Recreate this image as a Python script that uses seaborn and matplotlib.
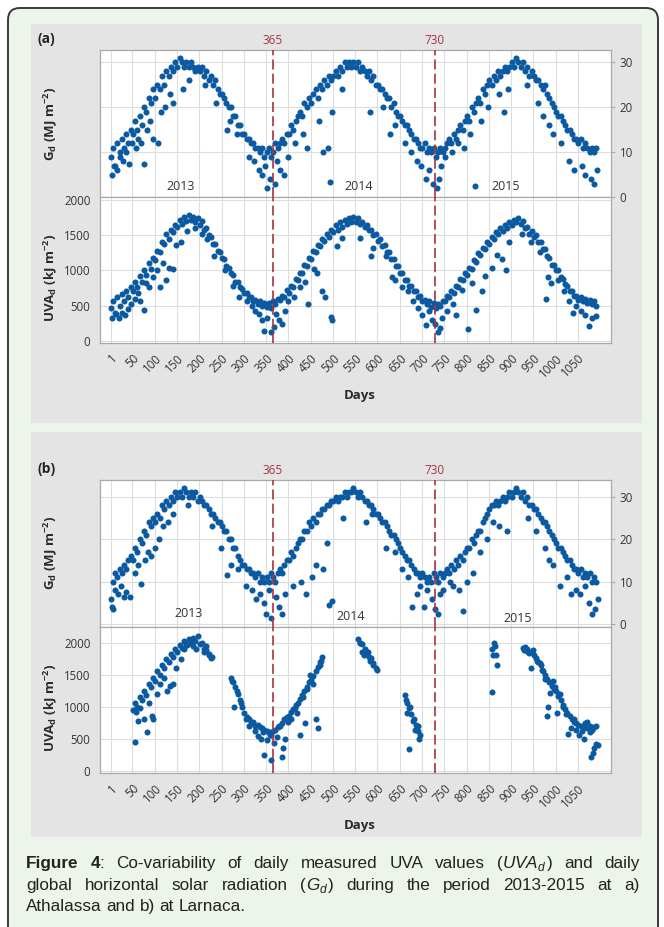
import numpy as np
import pandas as pd
import matplotlib
matplotlib.use("Agg")
import matplotlib.pyplot as plt
import seaborn as sns
from matplotlib.patches import FancyBboxPatch, Rectangle

N = np.nan

# day grid of the read-off main band (every 5th day, 1..1091)
days5 = np.arange(1, 1096, 5)

# ---------- (a) Athalassa : G_d (MJ m-2) ----------
g_a = [9, 11, 7, 12, 10, 13, 11, 14, 12, 15,
       14, 17, 15, 18, 16, 20, 19, 22, 21, 24,
       22, 25, 24, 27, 25, 28, 27, 29, 28, 30,
       29, 31, 30, 29, 30, 29, 30, 29, 28, 29,
       28, 29, 27, 28, 26, 27, 25, 26, 24, 23,
       23, 22, 21, 20, 20, 18, 18, 16, 16, 14,
       14, 13, 13, 12, 12, 11, 11, 10, 11, 9,
       10, 11, 9, 10, 12, 11, 12, 13, 12, 14,
       14, 16, 15, 17, 18, 19, 18, 21, 20, 22,
       21, 23, 24, 22, 25, 24, 26, 25, 27, 26,
       27, 28, 27, 29, 28, 30, 29, 30, 29, 30,
       29, 30, 28, 29, 28, 27, 28, 26, 27, 25,
       25, 24, 24, 23, 22, 22, 20, 21, 19, 18,
       18, 17, 16, 16, 15, 14, 13, 13, 12, 11,
       11, 12, 10, 11, 10, 11, 9, 10, 11, 10,
       11, 12, 13, 12, 14, 13, 15, 16, 15, 17,
       18, 17, 20, 19, 21, 22, 21, 24, 23, 25,
       26, 25, 27, 26, 28, 27, 28, 29, 28, 29,
       30, 29, 31, 30, 29, 30, 28, 29, 27, 28,
       27, 26, 26, 25, 24, 25, 23, 22, 21, 20,
       19, 18, 18, 17, 16, 15, 15, 14, 13, 13,
       12, 13, 11, 12, 11, 10, 11, 10, 11]
g_a_low_days = [3, 8, 15, 22, 28, 35, 42, 48, 57, 63, 70, 76, 83, 90, 97, 108, 115, 122, 135, 142,
                163, 178, 213, 238, 262, 270, 285, 312, 322, 333, 340, 347, 352, 358, 370, 375, 382,
                390, 398, 415, 432, 442, 494, 468, 478, 488, 497, 520, 583, 612, 628, 640, 662, 676,
                688, 698, 708, 716, 724, 733, 738, 742, 752, 768, 780, 795, 808, 818, 832, 847, 872,
                884, 893, 935, 960, 972, 985, 993, 1012, 1030, 1040, 1058, 1066, 1080, 1086, 1092]
g_a_low = [5, 7, 6, 9, 8, 10, 7.5, 12, 11, 13, 12, 7.5, 15, 17, 13, 12, 19, 20, 23, 21,
           24, 26, 25, 21, 15, 17, 14, 9, 8, 6, 5, 7, 2, 4, 3, 8, 6,
           5, 9, 12, 14, 11, 3.5, 17, 10, 11, 19, 24, 19, 20, 14, 16, 12, 10,
           8, 7, 4, 6, 3, 2, 4, 7, 9, 10, 12, 11, 14, 2.5, 17, 20, 23,
           19, 24, 25, 21, 18, 16, 14, 12, 8, 6, 7, 5, 4, 3, 6]

# ---------- (a) Athalassa : UVA_d (kJ m-2) ----------
uva_a = [460, 560, 400, 620, 500, 660, 560, 700, 620, 760,
         700, 840, 760, 920, 840, 1000, 930, 1100, 1020, 1180,
         1150, 1280, 1260, 1400, 1380, 1520, 1450, 1580, 1540, 1640,
         1620, 1720, 1660, 1760, 1700, 1780, 1710, 1760, 1680, 1740,
         1640, 1700, 1580, 1600, 1500, 1480, 1380, 1380, 1280, 1260,
         1180, 1160, 1060, 1040, 960, 940, 840, 840, 760, 740,
         680, 680, 620, 620, 560, 580, 520, 560, 500, 540,
         480, 540, 460, 560, 520, 600, 580, 640, 620, 720,
         680, 780, 760, 880, 860, 960, 960, 1080, 1060, 1180,
         1160, 1270, 1260, 1360, 1340, 1440, 1420, 1520, 1480, 1580,
         1540, 1640, 1580, 1680, 1620, 1720, 1660, 1750, 1680, 1760,
         1680, 1740, 1660, 1690, 1620, 1640, 1580, 1580, 1500, 1520,
         1420, 1440, 1340, 1360, 1260, 1260, 1160, 1160, 1060, 1060,
         960, 960, 860, 860, 780, 780, 700, 700, 620, 640,
         560, 580, 520, 560, 480, 540, 460, 520, 500, 560,
         560, 640, 620, 700, 680, 780, 760, 880, 860, 960,
         940, 1040, 1020, 1140, 1120, 1240, 1220, 1320, 1300, 1400,
         1380, 1480, 1440, 1540, 1520, 1600, 1560, 1640, 1600, 1680,
         1640, 1720, 1680, 1740, 1660, 1700, 1600, 1620, 1520, 1560,
         1480, 1500, 1400, 1400, 1300, 1300, 1200, 1180, 1080, 1080,
         1000, 1000, 900, 880, 800, 780, 700, 700, 640, 640,
         580, 620, 560, 600, 540, 580, 520, 560, 500]
uva_a_low_days = [5, 12, 20, 27, 33, 40, 47, 55, 62, 68, 75, 80, 88, 95, 105, 112, 118, 125, 132, 140,
                  148, 158, 172, 190, 205, 218, 232, 258, 275, 290, 308, 318, 326, 333, 340, 345, 352,
                  360, 368, 373, 380, 386, 392, 400, 412, 425, 437, 445, 458, 465, 475, 482, 495, 498,
                  508, 520, 560, 585, 590, 618, 633, 640, 655, 668, 680, 690, 700, 708, 716, 722, 728,
                  735, 740, 745, 755, 770, 776, 790, 803, 812, 822, 835, 842, 858, 868, 880, 888, 896,
                  925, 945, 965, 978, 982, 990, 1005, 1018, 1030, 1038, 1045, 1056, 1065, 1074, 1082, 1090]
uva_a_low = [320, 380, 330, 400, 360, 450, 520, 600, 680, 560, 440, 820, 760, 900, 1000, 760, 1100, 860, 1040, 1020,
             1360, 1400, 1560, 1600, 1520, 1440, 1200, 1000, 780, 620, 560, 500, 420, 380, 300, 140, 330,
             120, 200, 380, 300, 240, 420, 560, 620, 760, 840, 520, 1020, 960, 700, 620, 340, 300,
             1340, 1460, 1460, 1200, 1320, 1200, 900, 860, 760, 700, 560, 460, 360, 220, 420, 300, 240,
             130, 180, 320, 420, 520, 360, 720, 170, 820, 440, 700, 920, 1040, 1220, 1160, 1000, 1400,
             1520, 1400, 1260, 600, 900, 820, 860, 700, 560, 400, 500, 420, 360, 210, 330, 350]

# ---------- (b) Larnaca : G_d (MJ m-2) ----------
g_b = [6, 10, 12, 11, 13, 12, 14, 13, 15, 16,
       15, 18, 17, 20, 19, 22, 21, 24, 23, 25,
       24, 26, 25, 28, 27, 29, 28, 30, 29, 31,
       30, 31, 30, 32, 31, 30, 31, 30, 31, 29,
       30, 29, 28, 28, 27, 26, 26, 25, 24, 24,
       23, 22, 22, 20, 20, 18, 18, 16, 15, 14,
       14, 13, 13, 12, 12, 11, 12, 10, 11, 10,
       11, 10, 12, 11, 10, 12, 13, 12, 14, 15,
       15, 17, 16, 18, 19, 20, 20, 22, 22, 24,
       23, 25, 24, 26, 26, 27, 27, 28, 28, 29,
       29, 30, 29, 30, 30, 31, 30, 31, 31, 32,
       31, 30, 31, 30, 29, 29, 28, 28, 27, 26,
       26, 25, 24, 24, 23, 22, 21, 21, 20, 19,
       18, 17, 16, 15, 15, 14, 13, 12, 12, 11,
       12, 11, 10, 11, 10, 12, 11, 10, 12, 11,
       12, 13, 12, 14, 13, 15, 14, 16, 15, 17,
       18, 18, 20, 19, 21, 22, 22, 24, 25, 26,
       27, 28, 28, 29, 28, 29, 30, 29, 30, 31,
       30, 31, 32, 31, 30, 31, 29, 30, 28, 28,
       27, 27, 26, 25, 24, 24, 23, 22, 21, 20,
       19, 18, 18, 17, 16, 15, 15, 14, 13, 13,
       12, 13, 11, 12, 11, 12, 10, 11, 10]
g_b_low_days = [3, 6, 10, 18, 25, 30, 36, 44, 55, 62, 70, 78, 85, 92, 100, 110, 118, 130, 140, 175,
                228, 248, 262, 272, 288, 305, 318, 328, 336, 345, 350, 356, 362, 372, 380, 386, 393,
                410, 428, 440, 452, 462, 478, 486, 492, 498, 522, 575, 588, 620, 640, 655, 668, 678,
                688, 696, 705, 712, 722, 730, 735, 740, 748, 762, 770, 782, 792, 800, 815, 830, 845,
                860, 872, 890, 938, 955, 975, 985, 995, 1010, 1025, 1035, 1045, 1055, 1066, 1075,
                1082, 1088, 1094]
g_b_low = [4, 3.5, 8, 7, 9, 6.5, 7.5, 6.5, 12, 14, 9.5, 15, 17, 16, 18, 20, 23, 24, 26, 28,
           23, 18, 11.5, 14, 13, 9, 8, 6, 7, 5, 2.5, 8, 1.5, 6.5, 4, 2.5, 7,
           9, 10, 7, 11, 14, 13, 19, 4.5, 5.5, 25, 24, 26, 18, 17, 13, 11, 4,
           7, 9, 4, 8, 6, 3.5, 2.5, 7, 8, 10, 9, 8, 3, 10, 12, 17, 20,
           24, 23, 22, 25, 22, 18, 15, 14, 9, 11, 7, 8, 7, 9, 5,
           2.5, 3.5, 6]

# ---------- (b) Larnaca : UVA_d (kJ m-2), gaps = missing data ----------
uva_b = [N, N, N, N, N, N, N, N, N, N,
         950, 1050, 1000, 1150, 1100, 1250, 1180, 1350, 1300, 1450,
         1400, 1550, 1500, 1650, 1600, 1750, 1700, 1820, 1780, 1900,
         1860, 1960, 1920, 2020, 1980, 2060, 2000, 2080, 2020, 2100,
         1980, 2000, 1900, 1880, 1800, 1760, N, N, N, N,
         N, N, N, N, 1450, 1380, 1300, 1200, 1100, 1000,
         900, 840, 800, 760, 740, 700, 720, 680, 660, 640,
         620, 600, 560, 620, 640, 680, 700, 740, 800, 840,
         860, 920, 960, 1020, 1060, 1120, 1180, 1240, 1300, 1380,
         1420, 1480, 1560, 1620, 1700, 1780, N, N, N, N,
         N, N, N, N, N, N, N, N, N, N,
         N, 2050, 2000, 1980, 1900, 1860, 1780, 1760, 1680, 1600,
         N, N, N, N, N, N, N, N, N, N,
         N, N, 1180, 1050, 980, 880, 800, 720, 620, 560,
         N, N, N, N, N, N, N, N, N, N,
         N, N, N, N, N, N, N, N, N, N,
         N, N, N, N, N, N, N, N, N, N,
         N, 1900, 2000, 1800, N, N, N, N, N, N,
         N, N, N, N, N, 1920, 1880, 1900, 1840, 1860,
         1800, 1760, 1700, 1650, 1560, 1500, 1440, 1380, 1320, 1280,
         1240, 1160, 1100, 1020, 960, 900, 860, 800, 760, 740,
         720, 700, 680, 740, 660, 700, 640, 680, 420]
uva_b_low_days = [55, 58, 62, 68, 75, 82, 88, 93, 97, 105, 112, 120, 128, 135, 142, 148, 158, 165, 172, 185,
                  192, 210, 215, 222, 228, 273, 278, 284, 293, 305, 312, 320, 326, 332, 338, 342, 346, 352,
                  358, 362, 368, 374, 380, 385, 388, 392, 398, 405, 415, 420, 425, 432, 438, 442, 448, 455,
                  462, 466, 470, 474, 560, 565, 570, 578, 584, 590, 598, 663, 667, 670, 674, 680, 685, 690,
                  694, 858, 860, 864, 868, 928, 932, 938, 944, 950, 958, 965, 970, 975, 980, 983, 988, 993,
                  998, 1004, 1010, 1016, 1022, 1028, 1035, 1040, 1046, 1052, 1058, 1064, 1070, 1076, 1080,
                  1083, 1086, 1090, 1094]
uva_b_low = [450, 920, 780, 980, 800, 600, 1050, 850, 800, 1200, 1350, 1450, 1250, 1320, 1350, 1600, 1750, 1900, 1960, 1950,
             1900, 1850, 1950, 1820, 1780, 1400, 1000, 1250, 1050, 800, 700, 760, 620, 540, 500, 600, 240, 480,
             560, 160, 440, 520, 700, 220, 350, 500, 760, 800, 980, 900, 560, 1150, 750, 1280, 1500, 1350,
             800, 660, 1650, 1720, 2000, 1850, 1800, 1850, 1720, 1650, 1580, 1100, 900, 340, 1000, 780, 640, 700,
             500, 1230, 1800, 1950, 1650, 1880, 1940, 1850, 1600, 1880, 1720, 1680, 1580, 1440, 860, 1000, 1220, 1400,
             1300, 900, 1200, 1000, 880, 580, 660, 800, 640, 560, 620, 500, 760, 600, 220,
             280, 360, 700, 400]

x_ticks = [1] + list(range(50, 1051, 50))
year_labels = ["2013", "2014", "2015"]

W, H = 664, 927
BLUE = "#0b59a1"
RED = "#a3343f"
GRID = "#dddddd"
SPINE = "#a9a9a9"
TXT = "#333333"

sns.set_style("white")
plt.rcParams["font.family"] = ["Open Sans", "DejaVu Sans"]

fig = plt.figure(figsize=(W / 100, H / 100), dpi=100, facecolor="white")

# background: rounded light-green frame and two grey panels
bg = fig.add_axes([0, 0, 1, 1])
bg.set_xlim(0, W)
bg.set_ylim(H, 0)
bg.axis("off")
bg.set_zorder(-5)
bg.add_patch(FancyBboxPatch((8, 8), 650, 960, boxstyle="round,pad=0,rounding_size=12",
                            fc="#edf4ea", ec="#3a3a3a", lw=1.4))
bg.add_patch(Rectangle((31, 24), 611, 399, fc="#e4e4e4", ec="none"))
bg.add_patch(Rectangle((31, 432), 611, 405, fc="#e4e4e4", ec="none"))


def px_axes(l, t, r, b):
    return fig.add_axes([l / W, 1 - b / H, (r - l) / W, (b - t) / H])


def scatter(ax, days, vals, low_days, low_vals):
    df = pd.DataFrame({"day": np.r_[days, low_days], "value": np.r_[vals, low_vals]}).dropna()
    sns.scatterplot(data=df, x="day", y="value", ax=ax, color=BLUE, s=19,
                    linewidth=0, legend=False, zorder=3)


def style(ax):
    ax.set_facecolor("white")
    ax.set_xlim(-24, 1123)
    ax.set_xticks(x_ticks)
    ax.grid(True, color=GRID, lw=0.8)
    ax.set_axisbelow(True)
    for s in ax.spines.values():
        s.set_color(SPINE)
        s.set_linewidth(0.9)
    ax.set_xlabel("")
    ax.set_ylabel("")
    ax.tick_params(colors=SPINE, labelcolor=TXT, labelsize=8.3, length=3, width=0.8)
    for d in (365, 730):
        ax.axvline(d, color=RED, lw=1.2, ls=(0, (6, 2.5)), zorder=4)


def panel(tag, top, mid, bot, g, gd, gv, u, ud, uv, g_lim, u_lim, u_ticks, years, days_y):
    axg = px_axes(99.5, top, 610.5, mid)
    scatter(axg, days5, g, gd, gv)
    style(axg)
    axg.set_ylim(*g_lim)
    axg.set_yticks([0, 10, 20, 30])
    axg.yaxis.tick_right()
    axg.tick_params(axis="x", length=0, labelbottom=False)
    for (x, y), lab in zip(years, year_labels):
        axg.text(x, y, lab, ha="center", va="center", fontsize=9, color=TXT, zorder=5)

    axu = px_axes(99.5, mid, 610.5, bot)
    scatter(axu, days5, u, ud, uv)
    style(axu)
    axu.set_ylim(*u_lim)
    axu.set_yticks(u_ticks)
    axu.set_xticklabels([str(t) for t in x_ticks], rotation=45, ha="right",
                        rotation_mode="anchor")

    fig.text(37 / W, 1 - (top - 11) / H, tag, fontsize=10, fontweight="bold",
             color="#222222", va="center")
    for d in (365, 730):
        xf = (110.5 + (d - 1) * 0.445) / W
        fig.text(xf, 1 - (top - 9) / H, str(d), fontsize=8.5, color=RED,
                 ha="center", va="center")
    fig.text(50 / W, 1 - (top + mid) / 2 / H, r"G$_\mathregular{d}$ (MJ m$^\mathregular{-2}$)",
             rotation=90, fontsize=9.5, fontweight="bold", color="#2a2a2a",
             ha="center", va="center")
    fig.text(50 / W, 1 - ((mid + bot) / 2 + 8) / H, r"UVA$_\mathregular{d}$ (kJ m$^\mathregular{-2}$)",
             rotation=90, fontsize=9.5, fontweight="bold", color="#2a2a2a",
             ha="center", va="center")
    fig.text(360 / W, 1 - days_y / H, "Days", fontsize=9.5, fontweight="bold",
             color="#2a2a2a", ha="center", va="center")


panel("(a)", 50, 197.3, 342.7, g_a, g_a_low_days, g_a_low, uva_a, uva_a_low_days, uva_a_low,
      (0, 32.7), (-28, 2038), [0, 500, 1000, 1500, 2000],
      [(157, 2.4), (557, 2.4), (888, 2.4)], 395)
panel("(b)", 480, 626.7, 773, g_b, g_b_low_days, g_b_low, uva_b, uva_b_low_days, uva_b_low,
      (-0.6, 33.9), (-36, 2250), [0, 500, 1000, 1500, 2000],
      [(175, 2.5), (540, 1.7), (914, 1.4)], 825)

# ---------- justified caption ----------
CAP = dict(fontsize=12.3, color="#222222", family=["Liberation Sans", "DejaVu Sans"])
B = dict(CAP, fontweight="bold")
I = dict(CAP, style="italic")
lines = [
    [[("Figure", B)], [("4", B), (":", CAP)], [("Co-variability", CAP)], [("of", CAP)],
     [("daily", CAP)], [("measured", CAP)], [("UVA", CAP)], [("values", CAP)],
     [("(", CAP), (r"UVA$_\mathregular{d}$", I), (")", CAP)], [("and", CAP)], [("daily", CAP)]],
    [[("global", CAP)], [("horizontal", CAP)], [("solar", CAP)], [("radiation", CAP)],
     [("(", CAP), (r"G$_\mathregular{d}$", I), (")", CAP)], [("during", CAP)], [("the", CAP)],
     [("period", CAP)], [("2013-2015", CAP)], [("at", CAP)], [("a)", CAP)]],
    [[("Athalassa", CAP)], [("and", CAP)], [("b)", CAP)], [("at", CAP)], [("Larnaca.", CAP)]],
]
baselines = [868, 890, 911]
x0, x1 = 26, 640
fig.canvas.draw()
rend = fig.canvas.get_renderer()


def width(txt, kw):
    t = fig.text(0, 0, txt, **kw)
    w = t.get_window_extent(rend).width
    t.remove()
    return w


space = width("a b", CAP) - width("ab", CAP)
for li, (words, yb) in enumerate(zip(lines, baselines)):
    widths = [[width(s, kw) for s, kw in w] for w in words]
    tot = sum(sum(w) for w in widths)
    gap = (x1 - x0 - tot) / (len(words) - 1) if li < 2 else space
    x = x0
    for w, ws in zip(words, widths):
        for (s, kw), sw in zip(w, ws):
            fig.text(x / W, 1 - yb / H, s, va="baseline", ha="left", **kw)
            x += sw
        x += gap

fig.savefig("out.png", dpi=100, facecolor="white")
